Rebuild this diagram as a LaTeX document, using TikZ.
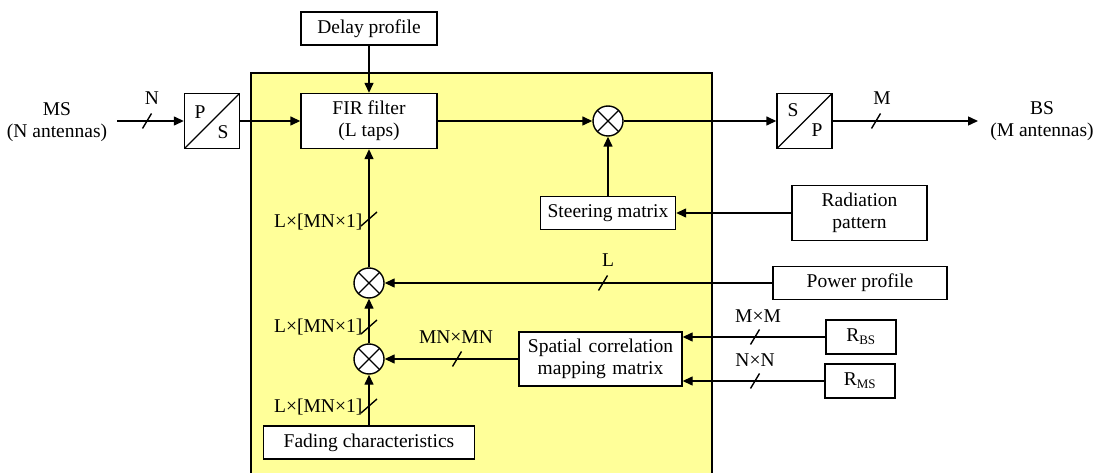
\documentclass[tikz,border=0pt]{standalone}
\usepackage{fontspec}
\setmainfont{Liberation Serif}
\usetikzlibrary{arrows.meta,calc}
\definecolor{panel}{RGB}{255,255,153}
\begin{document}
\begin{tikzpicture}[x=1pt,y=-1pt,
  font=\fontsize{19.5}{22}\selectfont,
  line width=1.4pt,
  box/.style={draw, fill=white, inner sep=0pt, align=center},
  mult/.style={draw, fill=white, circle, minimum size=30pt, inner sep=0pt,
    path picture={\draw[line width=1.4pt] (path picture bounding box.north west) -- (path picture bounding box.south east)
      (path picture bounding box.north east) -- (path picture bounding box.south west);}},
  conv/.style={draw, fill=white, minimum size=55pt, inner sep=0pt,
    path picture={\draw[line width=1.4pt] (path picture bounding box.south west) -- (path picture bounding box.north east);}},
  arr/.style={line width=1.4pt, -{Triangle[length=10pt,width=9pt]}},
  lbl/.style={inner sep=0pt},
  slh/.pic={\draw[line width=1.4pt] (-4.5,7.5) -- (4.5,-7.5);},
  slv/.pic={\draw[line width=1.4pt] (-8,7) -- (8,-7);}
]
\useasboundingbox (0,0) rectangle (1098,473);
% panel
\fill[panel] (251,73) rectangle (712,480);
\draw (251,480) -- (251,73) -- (712,73) -- (712,480);

% nodes
\node[box, minimum width=136pt, minimum height=33pt] (delay) at (369,28.5) {Delay profile};
\node[box, minimum width=136pt, minimum height=55pt] (fir) at (369,121) {FIR filter\\(L taps)};
\node[mult] (m1) at (608,121) {};
\node[box, minimum width=135pt, minimum height=33pt] (steer) at (608,213) {Steering matrix};
\node[box, minimum width=135pt, minimum height=55pt] (rad) at (859.5,213) {Radiation\\pattern};
\node[box, minimum width=174pt, minimum height=33pt] (power) at (860,283) {Power profile};
\node[mult] (m2) at (369,283) {};
\node[mult] (m3) at (369,359) {};
\node[box, minimum width=163pt, minimum height=54pt, text width=160pt] (spatial) at (600.5,359) {Spatial correlation\\mapping matrix};
\node[box, minimum width=211pt, minimum height=33pt] (fading) at (369,442.5) {Fading characteristics};
\node[box, minimum width=70pt, minimum height=34pt] (rbs) at (861,337) {R\textsubscript{\fontsize{13}{13}\selectfont BS}};
\node[box, minimum width=70pt, minimum height=34pt] (rms) at (860,381) {R\textsubscript{\fontsize{13}{13}\selectfont MS}};
\node[conv] (ps) at (212,121) {};
\node[lbl] (psP) at (200,112) {P};
\node[lbl] (psS) at (223,132) {S};
\node[conv] (sp) at (804.5,121) {};
\node[lbl] (spS) at (793,110) {S};
\node[lbl] (spP) at (817,130) {P};
\node[lbl, align=center] (ms) at (57,122) {MS\\(N antennas)};
\node[lbl, align=center] (bs) at (1042,121) {BS\\(M antennas)};
\coordinate (msout) at (117,121);
\coordinate (bsin) at (978,121);

% connectors
\draw[arr] (msout) -- (ps);
\draw[arr] (ps) -- (fir);
\draw[arr] (fir) -- (m1);
\draw[arr] (m1) -- (sp);
\draw[arr] (sp) -- (bsin);
\draw[arr] (delay) -- (fir);
\draw[arr] (steer) -- (m1);
\draw[arr] (rad) -- (steer);
\draw[arr] (power) -- (m2);
\draw[arr] (m2) -- (fir);
\draw[arr] (m3) -- (m2);
\draw[arr] (fading) -- (m3);
\draw[arr] (spatial) -- (m3);
\draw[arr] (rbs.west) -- (spatial.east |- rbs.west);
\draw[arr] (rms.west) -- (spatial.east |- rms.west);

% bus slashes
\pic at (147,121) {slh};
\pic at (876,121) {slh};
\pic at (603,283) {slh};
\pic at (457,359) {slh};
\pic at (755,337) {slh};
\pic at (755,381) {slh};
\pic at (369,219) {slv};
\pic at (369,327) {slv};
\pic at (369,406) {slv};

% bus labels
\node[lbl] (lN) at (152,98) {N};
\node[lbl] (lM) at (882,98) {M};
\node[lbl] (lL) at (608,260) {L};
\node[lbl] (lMNMN) at (456,337) {MN×MN};
\node[lbl] (lMM) at (758,316) {M×M};
\node[lbl] (lNN) at (755,360) {N×N};
\node[lbl, anchor=east] (lv1) at (363,222) {L×[MN×1]};
\node[lbl, anchor=east] (lv2) at (363,327) {L×[MN×1]};
\node[lbl, anchor=east] (lv3) at (363,407) {L×[MN×1]};
\end{tikzpicture}
\end{document}
